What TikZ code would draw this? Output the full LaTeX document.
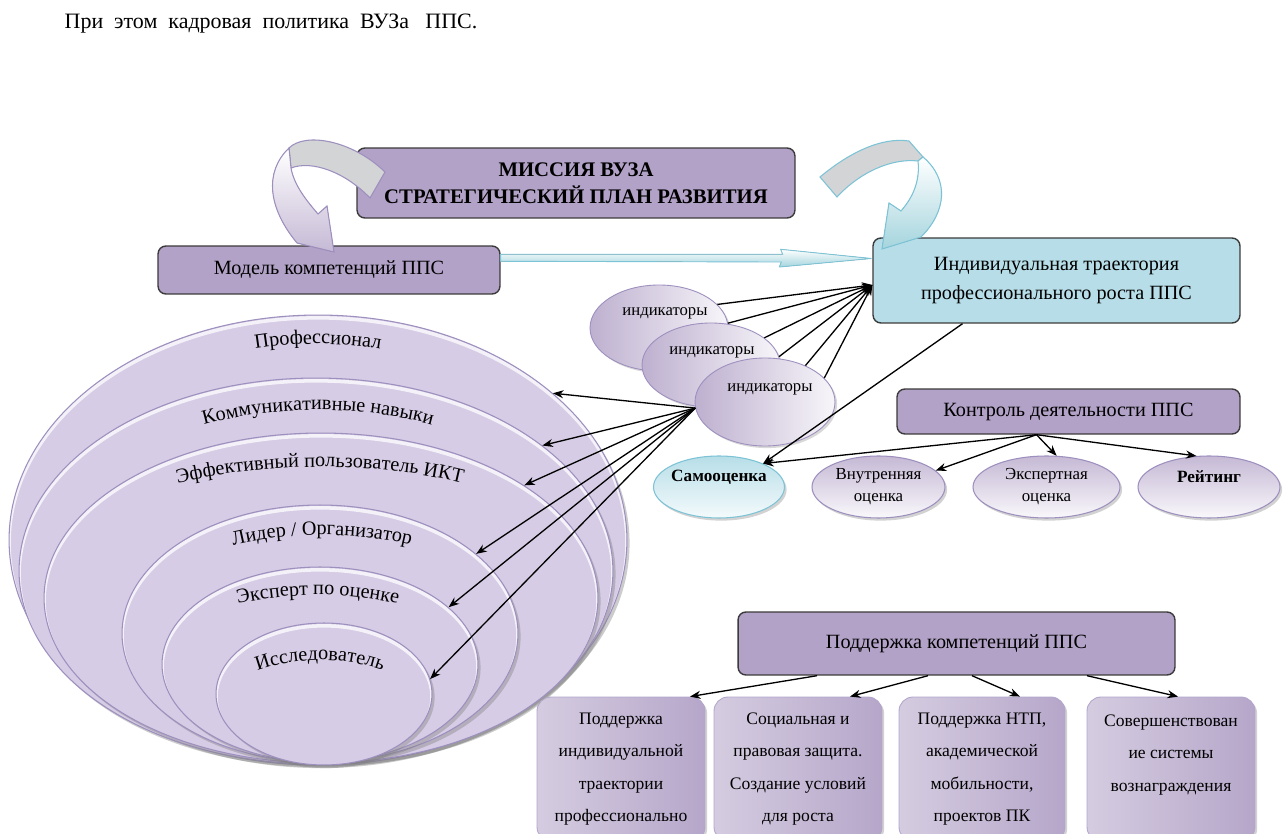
\documentclass[tikz,border=0pt]{standalone}
\usepackage{fontspec}
\setmainfont{Liberation Serif}
\usetikzlibrary{arrows.meta,positioning,calc,shadows,shapes.geometric,decorations.text}

\definecolor{lila}{HTML}{B2A2C7}
\definecolor{lilahell}{HTML}{D6CCE5}
\definecolor{lilarand}{HTML}{9D8FBE}
\definecolor{himmel}{HTML}{B7DEE8}
\definecolor{himmelrand}{HTML}{7CC3D6}
\definecolor{kastenrand}{HTML}{3B3B3B}
\definecolor{band}{HTML}{D3D4D6}

\newcommand\ringfont{\fontsize{11.5}{14}\selectfont}
\newcommand\ringtext[5]{%
  \path[decorate, decoration={text along path, text align=center, text={|\ringfont|#5}}]
    (#1,#2) ++(200:#3 and #4) arc[start angle=200, end angle=340, x radius=#3, y radius=#4];}

\tikzset{
    %Define standard arrow tip
    >={Stealth[length=6pt,width=4.6pt]},
    %Define style for boxes
    kasten/.style={
           rectangle, rounded corners=4.5pt,
           draw=kastenrand, line width=0.8pt,
           fill=lila,
           inner sep=0pt,
           align=center,
           font=\fontsize{11.5}{17}\selectfont},
    blaukasten/.style={kasten, fill=himmel},
    fusskasten/.style={
           rectangle, rounded corners=8pt,
           draw=lilarand!80, line width=0.5pt,
           left color=lila!55!white, middle color=lila!12!white, right color=lila!95,
           minimum width=3.36cm, minimum height=2.88cm,
           inner sep=0pt, align=center,
           drop shadow={shadow xshift=1.2pt, shadow yshift=-1.2pt, opacity=0.35},
           font=\fontsize{10}{18.5}\selectfont},
    % Define style for ellipses
    ring/.style={
           ellipse, inner sep=0pt,
           draw=lilarand, line width=0.6pt,
           fill=lilahell,
           drop shadow={shadow xshift=1.5pt, shadow yshift=-1.8pt, opacity=0.4},
           path picture={
               \draw[white, line width=2pt, opacity=0.75]
                   let \p1=(path picture bounding box.north east),
                       \p2=(path picture bounding box.south west) in
                   ($(path picture bounding box.center)+(0,-1.6pt)$)
                   ellipse [x radius={(\x1-\x2)/2}, y radius={(\y1-\y2)/2}];}},
    indik/.style={
           ellipse, inner sep=0pt,
           minimum width=2.76cm, minimum height=1.72cm,
           draw=lilarand, line width=0.5pt,
           left color=lila!85, right color=lila!10!white,
           drop shadow={shadow xshift=1.2pt, shadow yshift=-1.2pt, opacity=0.3}},
    indtext/.style={inner sep=0pt, font=\fontsize{9.5}{11}\selectfont},
    oval/.style={
           ellipse, inner ysep=0pt, inner xsep=-2pt,
           minimum width=2.66cm, minimum height=1.24cm,
           draw=lilarand, line width=0.6pt,
           top color=lila!75, bottom color=lila!8!white,
           align=center,
           drop shadow={shadow xshift=1.2pt, shadow yshift=-1.5pt, opacity=0.35},
           font=\fontsize{9.6}{12.5}\selectfont},
    blauoval/.style={oval, draw=himmelrand, top color=himmel, bottom color=himmel!15!white},
    % Define arrow style
    pfeil/.style={->, line width=0.75pt, black}
}

\begin{document}
\begin{tikzpicture}[x=0.02cm, y=-0.02cm]

\path[use as bounding box, fill=white] (0,0) rectangle (1286,834);
\clip (0,0) rectangle (1286,834);

\node[font=\fontsize{12.5}{15}\selectfont] (intro) at (271,24)
    {При\ \ этом\ \ кадровая\ \ политика\ \ ВУЗа\ \ \ ППС.};

%nodes
\node[kasten, minimum width=8.76cm, minimum height=1.4cm,
      font=\bfseries\fontsize{11.8}{15.3}\selectfont] (mission) at (576,183)
    {МИССИЯ ВУЗА\\СТРАТЕГИЧЕСКИЙ ПЛАН РАЗВИТИЯ};
\node[kasten, minimum width=6.84cm, minimum height=0.96cm] (modell) at (329,270) {Модель компетенций ППС};
\node[blaukasten, minimum width=7.34cm, minimum height=1.7cm] (traj) at (1056.5,280.5)
    {Индивидуальная траектория\\профессионального роста ППС};
\node[kasten, minimum width=6.86cm, minimum height=0.9cm] (kontrol) at (1068.5,411.5) {Контроль деятельности ППС};
\node[kasten, minimum width=8.74cm, minimum height=1.26cm] (podd) at (956.5,643.5) {Поддержка компетенций ППС};

% competence rings
\node[ring, minimum width=12.36cm, minimum height=9cm] (prof) at (318,540) {};
\node[ring, minimum width=11.88cm, minimum height=7.72cm] (komm) at (316,571) {};
\node[ring, minimum width=11.08cm, minimum height=6.6cm] (ikt) at (321,598) {};
\node[ring, minimum width=7.92cm, minimum height=5.14cm] (lider) at (320,633.5) {};
\node[ring, minimum width=6.32cm, minimum height=3.9cm] (ekspert) at (320,664.5) {};
\node[ring, minimum width=4.32cm, minimum height=2.84cm] (issled) at (324,694) {};

\ringtext{318}{569}{300}{225}{Профессионал}
\ringtext{318}{562}{265}{152}{Коммуникативные навыки}
\ringtext{320}{592}{290}{125}{Эффективный пользователь ИКТ}
\ringtext{322}{623}{190}{88}{Лидер / Организатор}
\ringtext{318}{653}{150}{58}{Эксперт по оценке}
\ringtext{320}{730}{118}{70}{Исследователь}

% indicators
\node[indik] (ind1) at (659,328) {};
\node[indtext] (ind1t) at (665,313) {индикаторы};
\node[indik, minimum height=1.68cm] (ind2) at (711,365) {};
\node[indtext] (ind2t) at (712,352) {индикаторы};
\node[indik, minimum width=2.8cm, minimum height=1.76cm] (ind3) at (765,402) {};
\node[indtext] (ind3t) at (770,389) {индикаторы};

% assessment ovals
\node[blauoval, minimum width=2.62cm, font=\bfseries\fontsize{9.8}{13}\selectfont, text depth=0.43cm] (samo) at (719,487) {Самооценка};
\node[oval] (vnutr) at (878.5,487) {Внутренняя\\оценка};
\node[oval, minimum width=2.94cm] (ekspoc) at (1046.5,487) {Экспертная\\оценка};
\node[oval, minimum width=2.84cm, font=\bfseries\fontsize{9.8}{13}\selectfont, text depth=0.43cm] (reit) at (1209,487) {Рейтинг};

% support boxes
\node[fusskasten] (fk1) at (621,769) {Поддержка\\индивидуальной\\траектории\\профессионально};
\node[fusskasten] (fk2) at (798,769) {Социальная и\\правовая защита.\\Создание условий\\для роста};
\node[fusskasten, minimum width=3.32cm] (fk3) at (982,769) {Поддержка НТП,\\академической\\мобильности,\\проектов ПК};
\node[fusskasten] (fk4) at (1171,769) {Совершенствован\\ие системы\\вознаграждения\\\mbox{}};

% ribbon arrows from the mission
\filldraw[draw=lilarand, line width=0.6pt, fill=band]
    (289,148) .. controls (305,132) and (352,140) .. (385,172) -- (370,198)
    .. controls (345,172) and (312,160) .. (291,168) -- cycle;
\filldraw[draw=lilarand, line width=0.6pt, top color=white, bottom color=lila!75]
    (289,148) .. controls (264,172) and (268,208) .. (297,243) -- (334,252) -- (327,206) -- (318,214)
    .. controls (306,200) and (294,185) .. (291,168) -- cycle;
\filldraw[draw=himmelrand, line width=0.6pt, fill=band]
    (820,177) .. controls (850,152) and (882,137) .. (909,141) -- (923,157) -- (918,161)
    .. controls (892,158) and (860,172) .. (837,197) -- cycle;
\filldraw[draw=himmelrand, line width=0.6pt, top color=white, bottom color=himmel!90!teal]
    (918,161) -- (923,157) .. controls (950,180) and (946,212) .. (921,237) -- (882,249) -- (889,203) -- (901,211)
    .. controls (914,196) and (920,180) .. (918,161) -- cycle;

% block arrow model -> trajectory
\coordinate (bstart) at ($(modell.north east)+(0,9)$);
\coordinate (bend) at ($(traj.west)+(-1,-22)$);
\filldraw[draw=himmelrand, line width=0.5pt, top color=white, bottom color=himmel!90!teal]
    (bstart) -- ++(282,0) -- ++(-2,-5) -- (bend) -- ++(-92,8.5) -- ++(2,-5) -- ($(bstart)+(0,7)$) -- cycle;

% arrows
\coordinate (trajin) at ($(traj.west)+(0,4.5)$);
\draw[pfeil] (ind1.22) -- (trajin);
\draw[pfeil] (ind1.4) -- (trajin);
\draw[pfeil] (ind2.27) -- (trajin);
\draw[pfeil] (ind2.7) -- (trajin);
\draw[pfeil] (ind3.42) -- (trajin);
\draw[pfeil] (ind3.22) -- (trajin);

\coordinate (indout) at (ind3.185);
\foreach \ziel/\w in {prof/32.4, komm/29.3, ikt/29.6, lider/27.7, ekspert/24, issled/8}
    \draw[pfeil] (indout) -- (\ziel.\w);

\coordinate (kout) at ($(kontrol.south)+(-32,0)$);
\draw[pfeil] (kout) -- (samo.28);
\draw[pfeil] (kout) -- (vnutr.16);
\draw[pfeil] (kout) -- (ekspoc.72);
\draw[pfeil] (kout) -- (reit.112);
\draw[pfeil] ($(traj.south)+(-94,0)$) -- (samo.28);

\draw[pfeil] ($(podd.south)+(-139.5,0)$) -- ($(fk1.north)+(69,0)$);
\draw[pfeil] ($(podd.south)+(-28.5,0)$) -- ($(fk2.north)+(52,0)$);
\draw[pfeil] ($(podd.south)+(15.5,0)$) -- ($(fk3.north)+(38,0)$);
\draw[pfeil] ($(podd.south)+(130.5,0)$) -- ($(fk4.north)+(7,0)$);

\end{tikzpicture}
\end{document}
